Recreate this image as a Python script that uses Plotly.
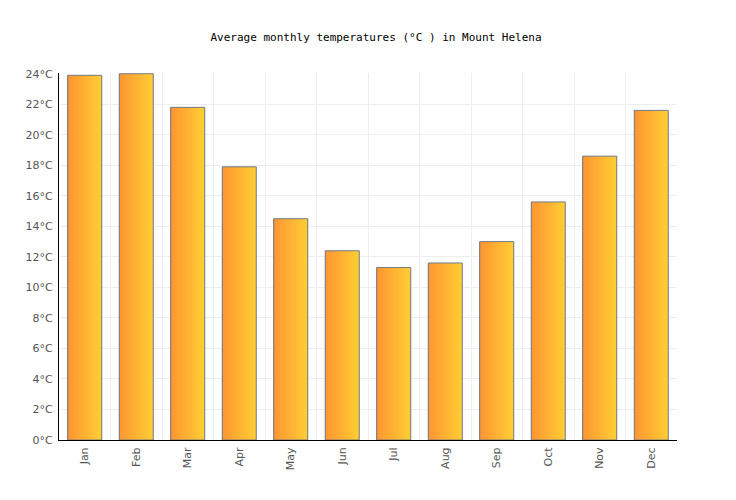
import plotly.graph_objects as go

months = ["Jan", "Feb", "Mar", "Apr", "May", "Jun",
          "Jul", "Aug", "Sep", "Oct", "Nov", "Dec"]
temps = [23.9, 24.0, 21.8, 17.9, 14.5, 12.4, 11.3, 11.6, 13.0, 15.6, 18.6, 21.6]
y_ticks = list(range(0, 25, 2))
y_labels = ["%d°C" % t for t in y_ticks]

BAR_W = 0.66
N_STRIPS = 24


def mix(c1, c2, t):
    return "rgb(%d,%d,%d)" % tuple(round(a + (b - a) * t) for a, b in zip(c1, c2))


fig = go.Figure()

# fake a left-to-right gradient with thin overlaid slices
left_col = (255, 150, 50)
right_col = (255, 204, 51)
strip_w = BAR_W / N_STRIPS
for i in range(N_STRIPS):
    fig.add_trace(go.Bar(
        x=months, y=temps,
        width=strip_w * 1.05, offset=-BAR_W / 2 + i * strip_w,
        marker=dict(color=mix(left_col, right_col, i / (N_STRIPS - 1)), line=dict(width=0)),
        hoverinfo="skip", showlegend=False,
    ))

# outline on top
fig.add_trace(go.Bar(
    x=months, y=temps, width=BAR_W, offset=-BAR_W / 2,
    marker=dict(color="rgba(0,0,0,0)", line=dict(color="#6f7b8a", width=1)),
    showlegend=False,
    hovertemplate="%{x}: %{y}°C<extra></extra>",
))

fig.update_layout(
    width=736, height=500,
    barmode="overlay",
    plot_bgcolor="white", paper_bgcolor="white",
    margin=dict(l=51, r=67, t=65, b=68),
    title=dict(text="Average monthly temperatures (°C ) in Mount Helena",
               x=0.5, xanchor="center", y=0.942, yanchor="middle",
               font=dict(family="DejaVu Sans Mono", size=11, color="#000")),
    font=dict(family="DejaVu Sans", size=11, color="#555"),
)
fig.update_xaxes(
    type="category", tickson="boundaries", showgrid=True, gridcolor="#eeeeee",
    tickangle=-90, showline=True, linecolor="#000", linewidth=1,
    ticks="", range=[-0.5, 11.5], tickfont=dict(size=11, color="#555"),
    ticklabelstandoff=2,
)
fig.update_yaxes(
    range=[0, 24.05], tickvals=y_ticks, ticktext=y_labels,
    showgrid=True, gridcolor="#eeeeee", zeroline=False,
    showline=True, linecolor="#000", linewidth=1, ticks="",
    tickfont=dict(size=11, color="#555"), ticklabelstandoff=3,
)

fig.write_html("out.html")
